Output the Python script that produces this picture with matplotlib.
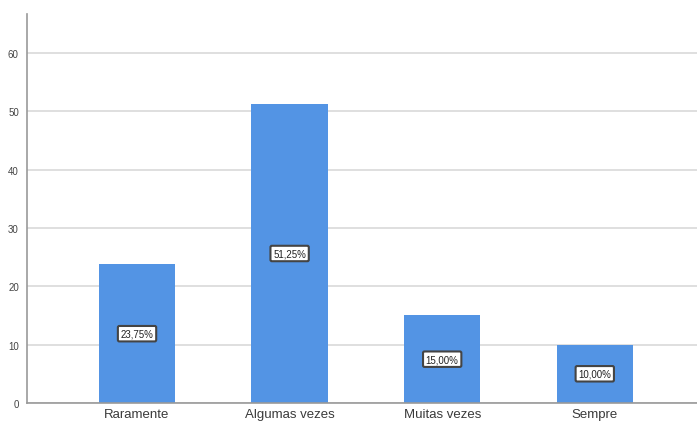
import numpy as np
import matplotlib.pyplot as plt

categorias = ["Raramente", "Algumas vezes", "Muitas vezes", "Sempre"]
percentuais = [23.75, 51.25, 15.00, 10.00]
rotulos = ["23,75%", "51,25%", "15,00%", "10,00%"]
yticks = [0, 10, 20, 30, 40, 50, 60]

plt.rcParams['font.family'] = ['Arial', 'Liberation Sans', 'DejaVu Sans']

fig = plt.figure(figsize=(6.97, 4.27), dpi=100)
ax = fig.add_axes([0.039, 0.054, 0.961, 0.911])

x = np.arange(len(categorias))
ax.bar(x, percentuais, width=0.5, color="#5394e4", zorder=2)

for xi, v, r in zip(x, percentuais, rotulos):
    ax.text(xi, v / 2, r, ha="center", va="center", fontsize=7, color="#222222", zorder=3,
            bbox=dict(boxstyle="round,pad=0.28,rounding_size=0.15", fc="white", ec="#444444", lw=1.5))

ax.set_xlim(-0.72, 3.67)
ax.set_ylim(0, 66.7)
ax.set_yticks(yticks)
ax.set_xticks(x)
ax.set_xticklabels(categorias, fontsize=9.5, color="#3a3a3a")
ax.tick_params(axis="y", length=0, labelsize=7, labelcolor="#444444", pad=6)
ax.tick_params(axis="x", length=0, pad=4)
ax.yaxis.grid(True, color="#d9d9d9", lw=1.2, zorder=0)
ax.set_axisbelow(True)

for s in ["top", "right"]:
    ax.spines[s].set_visible(False)
for s in ["left", "bottom"]:
    ax.spines[s].set_color("#999999")
    ax.spines[s].set_linewidth(1.2)

fig.savefig("out.png", dpi=100)
